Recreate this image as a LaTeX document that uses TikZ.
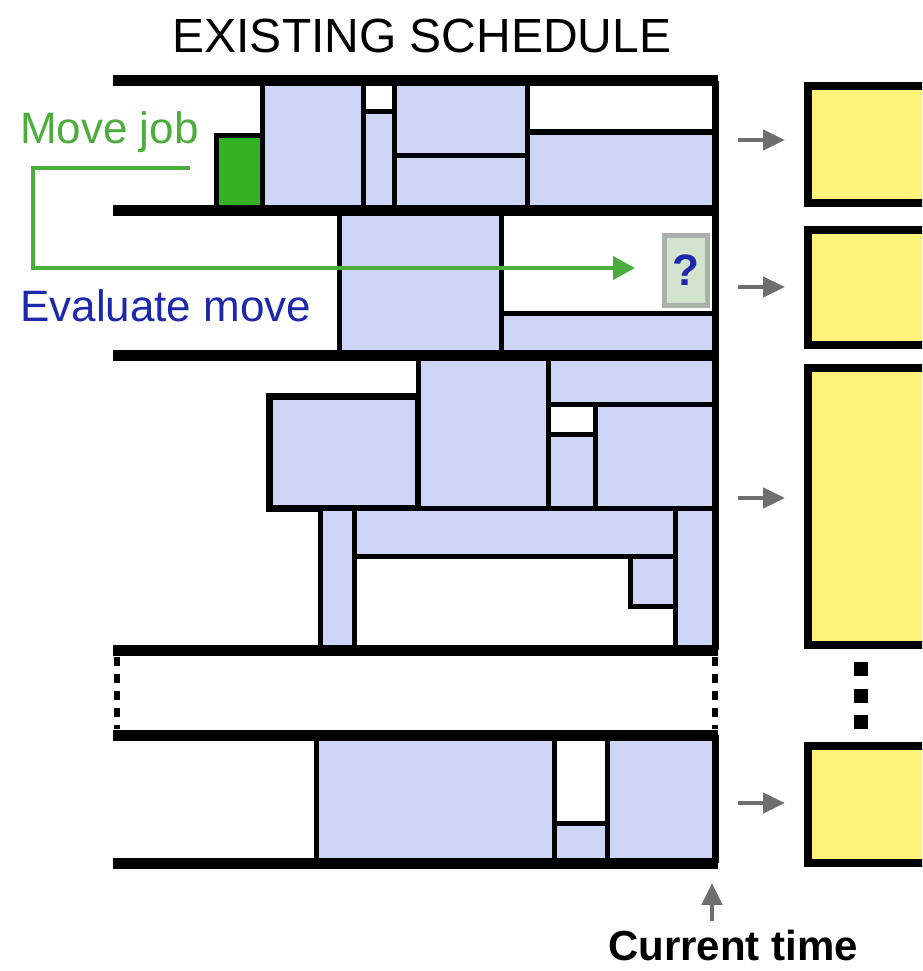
\documentclass[tikz,border=0pt]{standalone}
\usepackage{fontspec}
\setmainfont{Liberation Sans}
\usetikzlibrary{arrows.meta,positioning}

\definecolor{jobblue}{RGB}{206,214,247}
\definecolor{jobgreen}{RGB}{52,176,36}
\definecolor{movegreen}{RGB}{76,172,60}
\definecolor{evalblue}{RGB}{30,40,170}
\definecolor{slotyellow}{RGB}{255,242,122}
\definecolor{qfill}{RGB}{210,228,205}
\definecolor{qgray}{RGB}{170,176,170}
\definecolor{tipgray}{RGB}{110,110,110}

\tikzset{
    job/.style={fill=jobblue, draw=black, line width=5pt},
    bar/.style={line width=11pt},
    txt/.style={inner sep=0pt, font=\fontsize{44pt}{48pt}\selectfont},
    ybox/.style={draw=black, fill=slotyellow, line width=8pt, inner sep=0pt,
        minimum width=160pt, anchor=north west},
    qbox/.style={draw=qgray, fill=qfill, line width=5pt, inner sep=0pt,
        minimum width=43pt, minimum height=70pt, text=evalblue,
        font=\fontsize{44pt}{48pt}\selectfont\bfseries},
    grayarrow/.style={draw=tipgray, line width=4.5pt, -{Triangle[length=22pt,width=20pt]}},
    movearrow/.style={draw=movegreen, line width=4pt, -{Triangle[length=22pt,width=23pt]}}
}

\begin{document}
\begin{tikzpicture}[x=1pt, y=-1pt]
    \useasboundingbox (0,0) rectangle (922,971);
    \clip (0,0) rectangle (922,971);

    % title
    \node[txt, font=\fontsize{48pt}{54pt}\selectfont, anchor=base] (title) at (422,53) {EXISTING SCHEDULE};

    % machine 1
    \draw[fill=jobgreen, draw=black, line width=5pt] (216,135) rectangle (262,210);
    \draw[job] (262,81) rectangle (363,210);
    \draw[job] (363,112) rectangle (394,210);
    \draw[job] (394,81) rectangle (527,155);
    \draw[job] (394,155) rectangle (527,210);
    \draw[job] (527,132) rectangle (715,210);

    % machine 2
    \draw[job] (339,210) rectangle (501,355);
    \draw[job] (501,313) rectangle (715,355);
    \node[qbox] (qbox) at (686,270.5) {?};

    % machine 3
    \draw[job, line width=7pt] (269.5,396.5) rectangle (418,508);
    \draw[job] (418,355) rectangle (548,508);
    \draw[job] (548,355) rectangle (715,404);
    \draw[job] (548,434) rectangle (595,508);
    \draw[job] (595,404) rectangle (715,508);
    \draw[job] (320,508) rectangle (354,650);
    \draw[job] (354,508) rectangle (675,556);
    \draw[job] (630,556) rectangle (675,606);
    \draw[job] (675,508) rectangle (715,650);

    % last machine
    \draw[job] (316,735) rectangle (554,863);
    \draw[job] (554,823) rectangle (607,863);
    \draw[job] (607,735) rectangle (715,863);

    % machine borders and current time edge
    \foreach \y in {81,210,355,650,735,863} {
        \draw[bar] (113,\y) -- (718,\y);
    }
    \draw[line width=7pt] (715,81) -- (715,650);
    \draw[line width=7pt] (715,735) -- (715,863);
    \foreach \x in {117,715} {
        \draw[line width=6pt, dash pattern=on 9pt off 8pt] (\x,657) -- (\x,729);
    }

    % move job / evaluate move
    \node[txt, text=movegreen, anchor=base west] (movejob) at (20,143) {Move job};
    \node[txt, text=evalblue, anchor=base west] (evalmove) at (20,321) {Evaluate move};
    \coordinate (mvstart) at (190,168);
    \coordinate (mvbend) at (33,268);
    \draw[movearrow, shorten >=27pt] (mvstart) -| (mvbend) -- (mvbend -| qbox.west);

    % result slots
    \node[ybox, minimum height=117pt] (yb1) at (804,82) {};
    \node[ybox, minimum height=115pt] (yb2) at (804,226) {};
    \node[ybox, minimum height=277pt] (yb3) at (804,364) {};
    \node[ybox, minimum height=117pt] (yb4) at (804,742) {};
    \foreach \y in {662,689,715} {
        \fill (854,\y) rectangle ++(14,14);
    }
    \foreach \n/\y in {1/140,2/287,3/498,4/803} {
        \coordinate (g\n) at (738,\y);
        \draw[grayarrow, shorten >=19pt] (g\n) -- (g\n -| yb\n.west);
    }

    % current time
    \node[txt, font=\fontsize{42pt}{48pt}\selectfont\bfseries, anchor=base] (curtime) at (733,960) {Current time};
    \coordinate (now) at (712,883);
    \draw[grayarrow, shorten <=8pt] (curtime.north -| now) -- (now);
\end{tikzpicture}
\end{document}
